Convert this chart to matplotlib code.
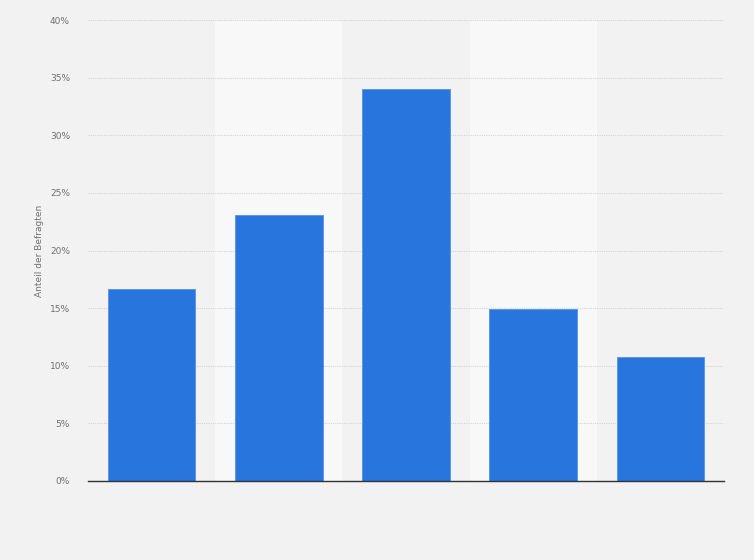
import numpy as np
import matplotlib.pyplot as plt
from matplotlib.ticker import FuncFormatter

# Werte (keine Kategorienbeschriftungen sichtbar)
categories = ["", "", "", "", ""]
shares = [16.7, 23.1, 34.0, 14.9, 10.8]
yticks = [0, 5, 10, 15, 20, 25, 30, 35, 40]

bg = "#f2f2f2"
band = "#f8f8f8"
bar_color = "#2876dd"

fig = plt.figure(figsize=(7.54, 5.6), dpi=100, facecolor=bg)
ax = fig.add_axes([88 / 754, 79 / 560, 636 / 754, 461 / 560])
ax.set_facecolor(bg)

x = np.arange(len(shares))
# abwechselnde hellere Hintergrundstreifen
for i in x:
    if i % 2 == 1:
        ax.axvspan(i - 0.5, i + 0.5, color=band, zorder=0, lw=0)

ax.bar(x, shares, width=0.69, color=bar_color, edgecolor="#5d97e6",
       linewidth=0.7, zorder=3)

ax.set_xlim(-0.5, len(shares) - 0.5)
ax.set_ylim(0, 40)
ax.set_yticks(yticks)
ax.yaxis.set_major_formatter(FuncFormatter(lambda v, p: f"{int(v)}%"))
ax.set_xticks(x)
ax.set_xticklabels(categories)

ax.grid(axis="y", color="#d4d4d4", linestyle=(0, (1, 1)), linewidth=0.8, zorder=1)
ax.tick_params(axis="y", length=0, pad=13, labelsize=6.5, labelcolor="#707070")
ax.tick_params(axis="x", length=0)
for s in ["top", "right", "left"]:
    ax.spines[s].set_visible(False)
ax.spines["bottom"].set_color("#333333")
ax.spines["bottom"].set_linewidth(1.0)
ax.spines["bottom"].set_zorder(4)

ax.set_ylabel("Anteil der Befragten", fontsize=6.5, color="#707070", labelpad=8)
ax.yaxis.set_label_coords(-44 / 636, 0.5)

fig.savefig("out.png", dpi=100, facecolor=bg)
